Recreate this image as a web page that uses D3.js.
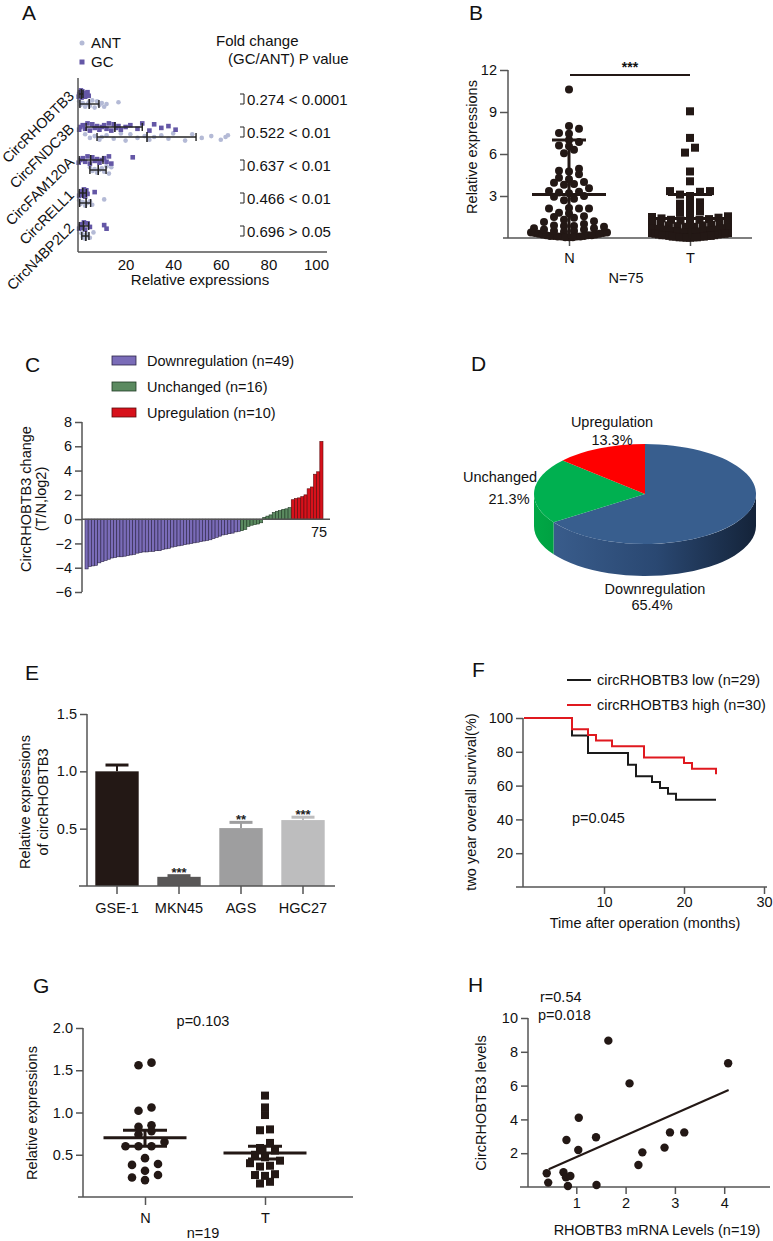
<!DOCTYPE html>
<html><head><meta charset="utf-8">
<script src="https://cdn.jsdelivr.net/npm/d3@7"></script>
<style>html,body{margin:0;padding:0;background:#fff;}svg{display:block;}</style>
</head><body>
<script>
// ---------------- DATA ----------------
// Panel A
const aRows = ["CircRHOBTB3","CircFNDC3B","CircFAM120A","CircRELL1","CircN4BP2L2"];
const aGC = [
  [0.3,0.5,0.8,1,1.2,1.5,1.8,2,2.5,3,3.5,4,4.5],
  [0.5,1,2,3,4,5,6,7,8,9,10,11,12,13,14,15,16,17,18,20,22,25,27,30,32,35,38,41],
  [0.3,1,2,3,4,5,6,7,8,9,10,11,12,13,14,23],
  [0.5,1,1.5,2,2.5,3,3.5,4,7],
  [0.5,1,1.5,2,2.5,3,4,5,11,12]
];
const aANT = [
  [0.5,1,2,3,4,4.5,5,6,7,8,9,10,11,12,17],
  [3,5,7,9,10,12,15,18,20,22,25,28,30,32,35,38,40,45,48,52,56,60,62,63],
  [5,6,7,8,9,10,11,12,13,14],
  [0.5,1,2,3,4,5,6,11],
  [1.5,2,2.5,3,3.5,4,5,6.5]
];
const aGCMean = [1.4,15.5,5.3,2.0,2.3], aGCLo = [0.4,3.4,0.5,0.5,0.5], aGCHi = [2.1,27,10.5,3.5,4.5];
const aANTMean = [4.7,29,8.5,3.4,3.3], aANTLo = [0.8,8,5,0.7,1.6], aANTHi = [8.8,49.6,11.8,5.3,4.6];
const aFold = ["0.274","0.522","0.637","0.466","0.696"];
const aP = ["< 0.0001","< 0.01","< 0.01","< 0.01","> 0.05"];
const aXTicks = [20,40,60,80,100];

// Panel B
const bGroups = ["N","T"];
const bN = [10.6,8.0,7.8,7.5,7.45,7.0,6.85,6.6,6.55,6.3,6.05,4.95,4.8,4.75,4.55,4.3,4.2,4.0,3.95,3.85,
  3.8,3.55,3.35,3.3,3.25,3.2,3.0,2.95,2.8,2.7,2.15,2.1,2.1,2.1,1.8,1.75,1.55,1.45,1.5,1.2,
  1.15,0.85,0.85,0.7,0.7,0.6,0.5,0.45,0.4,0.35,0.35,0.3,0.25,0.25,0.2,0.2,0.2,0.15,0.15,0.15,
  0.1,0.1,0.1,0.1,0.05,0.05,0.05,0.3,0.4,0.5,0.6,0.9,1.0,1.3,0.8];
const bT = [9.05,7.15,6.45,6.1,4.75,4.05,3.35,3.35,3.3,3.1,3.0,2.55,2.45,2.45,2.15,2.0,1.9,1.8,2.2,1.6,
  1.55,1.5,1.45,1.4,1.35,1.3,1.3,1.25,1.2,1.15,1.1,1.05,1.0,0.95,0.9,0.9,0.85,0.8,0.8,0.75,
  0.7,0.7,0.65,0.6,0.6,0.55,0.5,0.5,0.45,0.45,0.4,0.4,0.35,0.35,0.3,0.3,0.3,0.25,0.25,0.2,
  0.2,0.2,0.15,0.15,0.15,0.1,0.1,0.1,0.1,0.05,0.05,0.05,0.05,0.02,0.02];
const bMean = [3.1,1.4], bSDHi = [7.0,3.1];
const bYTicks = [3,6,9,12];

// Panel C
const cDown = [-4.1,-3.9,-3.85,-3.8,-3.6,-3.5,-3.4,-3.3,-3.2,-3.15,-3.1,-3.1,-3.05,-3.0,-2.95,-2.9,-2.8,-2.75,-2.7,-2.7,
  -2.65,-2.65,-2.6,-2.6,-2.5,-2.45,-2.4,-2.3,-2.25,-2.2,-2.15,-2.1,-2.05,-2.0,-1.95,-1.9,-1.85,-1.8,-1.75,-1.7,
  -1.6,-1.5,-1.4,-1.3,-1.25,-1.2,-1.15,-1.05,-1.0];
const cUnch = [-0.95,-0.85,-0.6,-0.5,-0.45,-0.4,-0.3,0.15,0.25,0.35,0.55,0.65,0.7,0.8,0.85,0.95];
const cUp = [1.6,1.7,1.75,1.85,2.0,2.5,2.65,3.7,3.9,6.4];
const cLegend = ["Downregulation (n=49)","Unchanged (n=16)","Upregulation (n=10)"];
const cYTicks = [-6,-4,-2,0,2,4,6,8];

// Panel D
const dLabels = ["Downregulation","Unchanged","Upregulation"];
const dValues = [65.4,21.3,13.3];

// Panel E
const eCells = ["GSE-1","MKN45","AGS","HGC27"];
const eValues = [1.0,0.08,0.505,0.575];
const eErr = [0.055,0.01,0.05,0.025];
const eStars = ["","***","**","***"];
const eYTicks = [0.5,1.0,1.5];

// Panel F
const fLowT = [0,6,8,13,14,16,17,18,19,24];
const fLowS = [100,89.7,79.3,72.4,65.5,62.1,58.6,55.2,51.7,51.7];
const fHighT = [0,6,8,9,11,15,20,21,24];
const fHighS = [100,93.3,90,86.7,83.3,76.7,73.3,70,66.7];
const fYTicks = [20,40,60,80,100], fXTicks = [10,20,30];

// Panel G
const gN = [1.59,1.56,1.06,1.02,0.85,0.83,0.78,0.74,0.65,0.6,0.6,0.6,0.46,0.39,0.38,0.31,0.26,0.23,0.2];
const gT = [1.2,1.06,0.97,0.8,0.79,0.64,0.58,0.55,0.5,0.47,0.43,0.4,0.37,0.36,0.27,0.26,0.25,0.18,0.16];
const gMean = [0.70,0.52], gLo = [0.60,0.45], gHi = [0.79,0.60];
const gYTicks = [0.5,1.0,1.5,2.0];

// Panel H
const hX = [0.40,0.43,0.74,0.79,0.80,0.83,0.88,1.04,1.05,1.40,1.41,1.65,2.08,2.26,2.34,2.79,2.90,3.19,4.08];
const hY = [0.81,0.26,0.87,0.57,2.78,0.06,0.65,2.19,4.10,2.94,0.12,8.66,6.13,1.30,2.05,2.33,3.23,3.23,7.32];
const hFit = {slope:1.285, intercept:0.485};
const hYTicks = [2,4,6,8,10], hXTicks = [1,2,3,4];

// ---------------- DRAW ----------------
const F = '"Liberation Sans", Arial, Helvetica, sans-serif';
const AX = '#555';
const INK = '#231815';
const svg = d3.select('body').append('svg').attr('width',773).attr('height',1241)
  .style('font-family',F);
svg.append('rect').attr('width',773).attr('height',1241).attr('fill','#fff');

function txt(x,y,s,o={}){
  const t = svg.append('text').attr('x',x).attr('y',y).text(s)
    .attr('font-size',(o.fs||14.5)+'px').attr('fill',o.fill||'#111')
    .attr('text-anchor',o.anchor||'start');
  if(o.weight) t.attr('font-weight',o.weight);
  if(o.rot!==undefined) t.attr('transform',`rotate(${o.rot},${x},${y})`);
  return t;
}
function line(x1,y1,x2,y2,c=AX,w=1.5){
  svg.append('line').attr('x1',x1).attr('y1',y1).attr('x2',x2).attr('y2',y2)
    .attr('stroke',c).attr('stroke-width',w);
}
function styleAx(g,fs=14.5){
  g.selectAll('.domain').remove();
  g.selectAll('.tick line').attr('stroke',AX).attr('stroke-width',1.5);
  g.selectAll('.tick text').attr('fill','#111').style('font-family',F).style('font-size',fs+'px');
}
// Prism-like column scatter: bin by pixel height, spread each bin horizontally (compressed if crowded)
function columnScatter(vals, yS, binPx, spacing, maxHalf){
  const idx = vals.map((v,i)=>i).sort((a,b)=>vals[a]-vals[b]);
  const off = new Array(vals.length).fill(0);
  let bin=[], start=null;
  const flush=()=>{
    const n=bin.length; if(!n) return;
    const sp = n>1 ? Math.min(spacing, 2*maxHalf/(n-1)) : 0;
    const slots = d3.range(n).map(k=>(k-(n-1)/2)*sp).sort((a,b)=>Math.abs(a)-Math.abs(b));
    bin.forEach((i,k)=>off[i]=slots[k]);
    bin=[];
  };
  idx.forEach(i=>{
    const y=yS(vals[i]);
    if(start===null || Math.abs(start-y)>binPx){ flush(); start=y; }
    bin.push(i);
  });
  flush();
  return off;
}
function letter(x,y,s){ txt(x,y,s,{fs:21}); }

// ===== Panel A =====
letter(22,20,'A');
{
  const xA = d3.scaleLinear().domain([0,100]).range([78,316]);
  const yA = d3.scalePoint().domain(aRows).range([94,226]);
  const dANT = 10;
  const jit = [-3,1,-1,3,0,-2,2,-4,4];
  svg.append('circle').attr('cx',82).attr('cy',43).attr('r',2.5).attr('fill','#b4bad6');
  txt(91,48,'ANT',{fs:15});
  svg.append('rect').attr('x',79.5).attr('y',59.5).attr('width',5).attr('height',5).attr('fill','#6457a6');
  txt(91,67,'GC',{fs:15});
  txt(216,46,'Fold change',{fs:15});
  txt(228,64,'(GC/ANT) P value',{fs:15});
  aRows.forEach((r,i)=>{
    const yg = yA(r), ya = yA(r)+dANT;
    aANT[i].forEach((v,k)=>{
      svg.append('circle').attr('cx',xA(v)).attr('cy',ya+jit[k%jit.length]*0.9).attr('r',2.3).attr('fill','#b4bad6');
    });
    aGC[i].forEach((v,k)=>{
      svg.append('rect').attr('x',xA(v)-2.3).attr('y',yg+jit[(k+3)%jit.length]*0.9-2.3)
        .attr('width',4.6).attr('height',4.6).attr('fill','#6457a6');
    });
    [[yg,aGCMean[i],aGCLo[i],aGCHi[i]],[ya,aANTMean[i],aANTLo[i],aANTHi[i]]].forEach(([yy,m,lo,hi])=>{
      line(xA(lo),yy,xA(hi),yy,'#222',1.4);
      line(xA(lo),yy-4,xA(lo),yy+4,'#222',1.4);
      line(xA(hi),yy-4,xA(hi),yy+4,'#222',1.4);
      line(xA(m),yy-5,xA(m),yy+5,'#222',1.6);
    });
    svg.append('path').attr('d',`M240,${yg}H244V${ya}H240`).attr('fill','none').attr('stroke','#222').attr('stroke-width',1);
    txt(247,(yg+ya)/2+5.5,aFold[i]+' '+aP[i],{fs:15});
    txt(75,yg+3,r,{fs:14.5,anchor:'end',rot:-45});
  });
  const gx = svg.append('g').attr('transform','translate(0,252)')
    .call(d3.axisBottom(xA).tickValues(aXTicks).tickSize(0).tickPadding(7));
  styleAx(gx,15);
  line(78,78,78,252);
  line(78,252,327,252);
  txt(200,285,'Relative expressions',{fs:15,anchor:'middle'});
}

// ===== Panel B =====
letter(469,20,'B');
{
  const yB = d3.scaleLinear().domain([0,12]).range([238,70]);
  const xB = d3.scalePoint().domain(bGroups).range([569,690]);
  const gy = svg.append('g').attr('transform','translate(508,0)')
    .call(d3.axisLeft(yB).tickValues(bYTicks).tickSize(8).tickPadding(3));
  styleAx(gy);
  const gx = svg.append('g').attr('transform','translate(0,238)')
    .call(d3.axisBottom(xB).tickSize(8).tickPadding(6.5));
  styleAx(gx);
  line(508,70,508,238);
  line(503,238,752,238);
  const oN = columnScatter(bN,yB,5,10,38), oT = columnScatter(bT,yB,5,10,38);
  bN.forEach((v,i)=>svg.append('circle').attr('cx',xB('N')+oN[i]).attr('cy',yB(v)).attr('r',4).attr('fill',INK));
  bT.forEach((v,i)=>svg.append('rect').attr('x',xB('T')+oT[i]-4).attr('y',yB(v)-4).attr('width',8).attr('height',8).attr('fill',INK));
  const halfM=[37,39], halfC=[17,22];
  bGroups.forEach((g,i)=>{
    const cx=xB(g);
    line(cx-halfM[i],yB(bMean[i]),cx+halfM[i],yB(bMean[i]),INK,3);
    line(cx,yB(0),cx,yB(bSDHi[i]),INK,3);
    line(cx-halfC[i],yB(bSDHi[i]),cx+halfC[i],yB(bSDHi[i]),INK,3);
  });
  line(570,75,690,75,INK,2);
  txt(630,72,'***',{fs:14,anchor:'middle',weight:'bold'});
  txt(477,147,'Relative expressions',{anchor:'middle',rot:-90});
  txt(626,283,'N=75',{anchor:'middle'});
}

// ===== Panel C =====
letter(25,372,'C');
{
  const cols = [{f:'#7a6cb8',s:'#2b2346'},{f:'#5b8a60',s:'#1f3a24'},{f:'#d7111b',s:'#5a0a0c'}];
  cLegend.forEach((l,i)=>{
    svg.append('rect').attr('x',112).attr('y',356+26*i).attr('width',24).attr('height',9)
      .attr('fill',cols[i].f).attr('stroke',cols[i].s).attr('stroke-width',0.8);
    txt(147,366+26*i,l);
  });
  const all = [...cDown.map(v=>({v,c:0})),...cUnch.map(v=>({v,c:1})),...cUp.map(v=>({v,c:2}))];
  const yC = d3.scaleLinear().domain([-6,8]).range([592,422]);
  const xC = d3.scaleBand().domain(d3.range(all.length)).range([85,323]).padding(0);
  all.forEach((d,i)=>{
    const y0=yC(0), y1=yC(d.v);
    svg.append('rect').attr('x',xC(i)).attr('y',Math.min(y0,y1)).attr('width',xC.bandwidth())
      .attr('height',Math.abs(y1-y0)).attr('fill',cols[d.c].f).attr('stroke',cols[d.c].s).attr('stroke-width',0.6);
  });
  const gy = svg.append('g').attr('transform','translate(82,0)')
    .call(d3.axisLeft(yC).tickValues(cYTicks).tickSize(7).tickPadding(3));
  styleAx(gy);
  line(82,422,82,592);
  line(82,yC(0),330,yC(0));
  txt(319,537,String(all.length),{anchor:'middle'});
  txt(31,499,'CircRHOBTB3 change',{anchor:'middle',rot:-90});
  txt(46,499,'(T/N,log2)',{anchor:'middle',rot:-90});
}

// ===== Panel D =====
letter(471,371,'D');
{
  const cx=645, cy=494, rx=111, ry=50, h=32;
  const P=(a,dy=0)=>[cx+rx*Math.sin(a), cy-ry*Math.cos(a)+dy];
  const tops=['#385e8e','#00b050','#ff0000'];
  const defs = svg.append('defs');
  const gb = defs.append('linearGradient').attr('id','blueSide').attr('gradientUnits','userSpaceOnUse')
    .attr('x1',cx-rx).attr('x2',cx+rx).attr('y1',0).attr('y2',0);
  gb.append('stop').attr('offset','0%').attr('stop-color','#3c6090');
  gb.append('stop').attr('offset','55%').attr('stop-color','#2a4872');
  gb.append('stop').attr('offset','100%').attr('stop-color','#142339');
  const gg = defs.append('linearGradient').attr('id','greenSide').attr('gradientUnits','userSpaceOnUse')
    .attr('x1',cx-rx).attr('x2',cx-rx+40).attr('y1',0).attr('y2',0);
  gg.append('stop').attr('offset','0%').attr('stop-color','#00a846');
  gg.append('stop').attr('offset','100%').attr('stop-color','#009a3e');
  const sides=['url(#blueSide)','url(#greenSide)','#c00000'];
  const arcs = d3.pie().sort(null).value(d=>d)(dValues);
  arcs.forEach((a,i)=>{
    const s=Math.max(a.startAngle,Math.PI/2), e=Math.min(a.endAngle,3*Math.PI/2);
    if(s<e){
      const p0=P(s),p1=P(e),p2=P(e,h),p3=P(s,h);
      svg.append('path').attr('d',`M${p0}A${rx},${ry} 0 0 1 ${p1}L${p2}A${rx},${ry} 0 0 0 ${p3}Z`).attr('fill',sides[i]);
    }
  });
  arcs.forEach((a,i)=>{
    const p0=P(a.startAngle),p1=P(a.endAngle);
    const large=(a.endAngle-a.startAngle)>Math.PI?1:0;
    svg.append('path').attr('d',`M${cx},${cy}L${p0}A${rx},${ry} 0 ${large} 1 ${p1}Z`).attr('fill',tops[i]);
  });
  txt(612,427,dLabels[2],{anchor:'middle'});
  txt(612,445,dValues[2].toFixed(1)+'%',{anchor:'middle'});
  txt(500,482,dLabels[1],{anchor:'middle'});
  txt(509,504,dValues[1].toFixed(1)+'%',{anchor:'middle'});
  txt(655,594,dLabels[0],{anchor:'middle'});
  txt(652,610,dValues[0].toFixed(1)+'%',{anchor:'middle'});
}

// ===== Panel E =====
letter(25,680,'E');
{
  const yE = d3.scaleLinear().domain([0,1.5]).range([886,714]);
  const xE = d3.scaleBand().domain(eCells).range([86,334]).paddingInner(0.3).paddingOuter(0.15);
  const fills=['#231815','#595757','#9e9e9f','#bdbdbe'];
  eCells.forEach((c,i)=>{
    const x=xE(c), w=xE.bandwidth(), cxm=x+w/2;
    const top=yE(eValues[i]+eErr[i]);
    line(cxm,yE(eValues[i]),cxm,top,fills[i],2);
    line(cxm-11.5,top,cxm+11.5,top,fills[i],3);
    svg.append('rect').attr('x',x).attr('y',yE(eValues[i])).attr('width',w).attr('height',yE(0)-yE(eValues[i])).attr('fill',fills[i]);
    if(eStars[i]) txt(cxm,top+1.5,eStars[i],{fs:13,anchor:'middle',weight:'bold',fill:'#222'});
  });
  const gy = svg.append('g').attr('transform','translate(87,0)')
    .call(d3.axisLeft(yE).tickValues(eYTicks).tickFormat(d3.format('.1f')).tickSize(7).tickPadding(3));
  styleAx(gy);
  const gx = svg.append('g').attr('transform','translate(0,886)')
    .call(d3.axisBottom(xE).tickSize(8).tickPadding(9));
  styleAx(gx);
  line(87,714,87,886);
  line(79,886,335,886);
  txt(30,802,'Relative expressions',{anchor:'middle',rot:-90});
  txt(48,802,'of circRHOBTB3',{anchor:'middle',rot:-90});
}

// ===== Panel F =====
letter(472,677,'F');
{
  const xF = d3.scaleLinear().domain([0,30]).range([524,764]);
  const yF = d3.scaleLinear().domain([0,100]).range([887,718]);
  const gy = svg.append('g').attr('transform','translate(523,0)')
    .call(d3.axisLeft(yF).tickValues(fYTicks).tickSize(7).tickPadding(3));
  styleAx(gy);
  const gx = svg.append('g').attr('transform','translate(0,887)')
    .call(d3.axisBottom(xF).tickValues(fXTicks).tickSize(7).tickPadding(3));
  styleAx(gx);
  line(523,718,523,887);
  line(516,887,767,887);
  const ln = d3.line().x(d=>xF(d[0])).y(d=>yF(d[1])).curve(d3.curveStepAfter);
  svg.append('path').attr('d',ln(fLowT.map((t,i)=>[t,fLowS[i]]))).attr('fill','none').attr('stroke','#1a1a1a').attr('stroke-width',2);
  svg.append('path').attr('d',ln(fHighT.map((t,i)=>[t,fHighS[i]]))).attr('fill','none').attr('stroke','#e0191f').attr('stroke-width',2);
  line(567,680,591,680,'#1a1a1a',2);
  txt(597,685,'circRHOBTB3 low (n=29)');
  line(567,705,591,705,'#e0191f',2);
  txt(597,710,'circRHOBTB3 high (n=30)');
  txt(572,823,'p=0.045');
  txt(476,802,'two year overall survival(%)',{anchor:'middle',rot:-90});
  txt(645,928,'Time after operation (months)',{anchor:'middle'});
}

// ===== Panel G =====
letter(33,993,'G');
{
  const yG = d3.scaleLinear().domain([0,2]).range([1197,1028]);
  const xG = d3.scalePoint().domain(bGroups).range([145,265]);
  const gy = svg.append('g').attr('transform','translate(83,0)')
    .call(d3.axisLeft(yG).tickValues(gYTicks).tickFormat(d3.format('.1f')).tickSize(7).tickPadding(3));
  styleAx(gy);
  const gx = svg.append('g').attr('transform','translate(0,1197)')
    .call(d3.axisBottom(xG).tickSize(8).tickPadding(7.5));
  styleAx(gx);
  line(83,1028,83,1197);
  line(78,1197,353,1197);
  const oN = columnScatter(gN,yG,7,13,28), oT = columnScatter(gT,yG,7,10,25);
  gN.forEach((v,i)=>svg.append('circle').attr('cx',xG('N')+oN[i]).attr('cy',yG(v)).attr('r',4.3).attr('fill',INK));
  gT.forEach((v,i)=>svg.append('rect').attr('x',xG('T')+oT[i]-4).attr('y',yG(v)-4).attr('width',8).attr('height',8).attr('fill',INK));
  const halfC=[22,17];
  bGroups.forEach((g,i)=>{
    const cx=xG(g);
    line(cx-41.5,yG(gMean[i]),cx+41.5,yG(gMean[i]),INK,3);
    line(cx,yG(gLo[i]),cx,yG(gHi[i]),INK,3);
    line(cx-halfC[i],yG(gLo[i]),cx+halfC[i],yG(gLo[i]),INK,3);
    line(cx-halfC[i],yG(gHi[i]),cx+halfC[i],yG(gHi[i]),INK,3);
  });
  txt(203,1026,'p=0.103',{anchor:'middle'});
  txt(203,1238,'n=19',{anchor:'middle'});
  txt(37,1113,'Relative expressions',{anchor:'middle',rot:-90});
}

// ===== Panel H =====
letter(468,992,'H');
{
  const xH = d3.scaleLinear().domain([0,5]).range([527,773.5]);
  const yH = d3.scaleLinear().domain([0,10]).range([1187,1018]);
  const gy = svg.append('g').attr('transform','translate(528,0)')
    .call(d3.axisLeft(yH).tickValues(hYTicks).tickSize(7).tickPadding(3));
  styleAx(gy);
  const gx = svg.append('g').attr('transform','translate(0,1187)')
    .call(d3.axisBottom(xH).tickValues(hXTicks).tickFormat(d3.format('d')).tickSize(7).tickPadding(3.5));
  styleAx(gx);
  line(528,1018,528,1187);
  line(520,1187,770,1187);
  const x0=d3.min(hX)+0.04, x1=d3.max(hX)+0.01;
  line(xH(x0),yH(hFit.intercept+hFit.slope*x0),xH(x1),yH(hFit.intercept+hFit.slope*x1),INK,2);
  hX.forEach((x,i)=>svg.append('circle').attr('cx',xH(x)).attr('cy',yH(hY[i])).attr('r',4.2).attr('fill',INK));
  txt(540,1002,'r=0.54');
  txt(538,1020,'p=0.018');
  txt(486,1103,'CircRHOBTB3 levels',{anchor:'middle',rot:-90});
  txt(657,1235,'RHOBTB3 mRNA Levels (n=19)',{anchor:'middle'});
}
</script>
</body></html>
